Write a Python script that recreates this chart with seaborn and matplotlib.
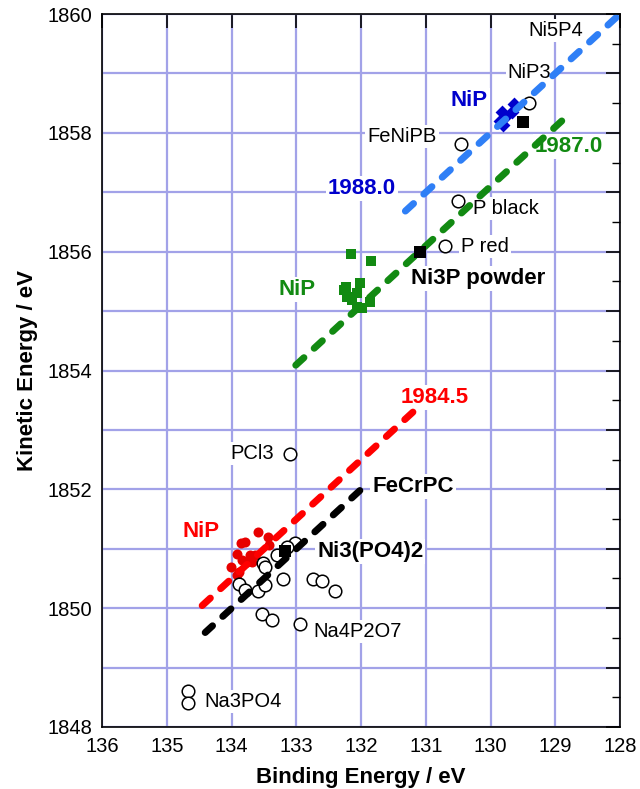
import matplotlib
matplotlib.use("Agg")
import matplotlib.pyplot as plt
import seaborn as sns
import pandas as pd
from matplotlib.ticker import MultipleLocator, FuncFormatter

# ---------------- data ----------------
# open circles: reference compounds
ref_be = [129.40, 130.46, 130.50, 130.70, 133.10,
          133.02, 133.15, 133.30, 133.51, 133.48, 133.89, 133.79, 133.60,
          133.48, 133.20, 132.74, 132.61, 132.40, 133.53, 133.38, 132.94,
          134.68, 134.68]
ref_ke = [1858.50, 1857.81, 1856.85, 1856.10, 1852.60,
          1851.09, 1851.03, 1850.90, 1850.76, 1850.70, 1850.40, 1850.31, 1850.29,
          1850.39, 1850.49, 1850.49, 1850.45, 1850.29, 1849.90, 1849.80, 1849.73,
          1848.61, 1848.41]

# NiP (red circles)
nip_red_be = [133.60, 133.44, 133.80, 133.85, 133.43, 133.92, 133.71, 133.64,
              133.84, 133.77, 133.69, 134.01, 133.89, 133.92]
nip_red_ke = [1851.29, 1851.20, 1851.12, 1851.09, 1851.06, 1850.92, 1850.90, 1850.90,
              1850.81, 1850.78, 1850.78, 1850.70, 1850.61, 1850.56]

# NiP (green squares)
nip_green_be = [132.15, 131.85, 132.23, 132.02, 132.06, 132.22, 131.86, 132.06,
                131.98, 132.14, 132.26]
nip_green_ke = [1855.96, 1855.84, 1855.41, 1855.47, 1855.30, 1855.24, 1855.15, 1855.07,
                1855.05, 1855.19, 1855.36]

# NiP (blue diamonds)
nip_blue_be = [129.83, 129.78, 129.67, 129.85, 129.81, 129.64]
nip_blue_ke = [1858.35, 1858.27, 1858.35, 1858.20, 1858.13, 1858.49]

# black squares
sq_be = [129.50, 131.09, 133.18]
sq_ke = [1858.19, 1856.00, 1850.96]

# Auger parameter lines (KE = AP - BE)
ap_values = [1988.0, 1987.1, 1984.5, 1984.0]
ap_be_from = [131.34, 133.08, 134.50, 134.41]
ap_be_to = [128.06, 128.90, 131.20, 132.02]

# annotations
label_text = ["Ni5P4", "NiP3", "NiP", "FeNiPB", "1988.0", "1987.0", "P black", "P red",
              "Ni3P powder", "NiP", "1984.5", "PCl3", "FeCrPC", "NiP", "Ni3(PO4)2",
              "Na4P2O7", "Na3PO4"]
label_be = [129.00, 129.40, 130.33, 131.37, 131.99, 128.79, 129.77, 130.08,
            130.19, 132.99, 130.86, 133.69, 131.20, 134.47, 131.86,
            132.06, 133.83]
label_ke = [1859.73, 1859.02, 1858.55, 1857.94, 1857.07, 1857.77, 1856.73, 1856.08,
            1855.55, 1855.36, 1853.54, 1852.60, 1852.04, 1851.29, 1850.96,
            1849.60, 1848.43]

x_ticks = [136, 135, 134, 133, 132, 131, 130, 129, 128]
y_ticks = [1848, 1850, 1852, 1854, 1856, 1858, 1860]

# ---------------- style ----------------
sns.set_theme(style="white")
plt.rcParams["font.family"] = ["Liberation Sans", "DejaVu Sans"]
plt.rcParams["lines.scale_dashes"] = False

BLUE_LINE = "#2f7ff6"
DARK_BLUE = "#0000cc"
GREEN = "#128a12"
RED = "#ff0000"
BLACK = "#000000"

label_color = [BLACK, BLACK, DARK_BLUE, BLACK, DARK_BLUE, GREEN, BLACK, BLACK,
               BLACK, GREEN, RED, BLACK, BLACK, RED, BLACK, BLACK, BLACK]
label_bold = [False, False, True, False, True, True, False, False,
              True, True, True, False, True, True, True, False, False]
line_colors = [BLUE_LINE, GREEN, RED, BLACK]

fig = plt.figure(figsize=(6.4, 7.89), dpi=100)
ax = fig.add_axes([102.3 / 640, 1 - 727 / 789, (620 - 102.3) / 640, (727 - 14) / 789])

# markers
sns.scatterplot(x=nip_red_be, y=nip_red_ke, ax=ax, marker="o", s=52,
                color="#e80000", edgecolor="#e80000", linewidth=0, zorder=3.0)
sns.scatterplot(x=ref_be, y=ref_ke, ax=ax, marker="o", s=82,
                facecolor="white", edgecolor="black", linewidth=1.1, zorder=3.1)
sns.scatterplot(x=nip_green_be, y=nip_green_ke, ax=ax, marker="s", s=55,
                color=GREEN, edgecolor=GREEN, linewidth=0, zorder=3.2)
sns.scatterplot(x=nip_blue_be, y=nip_blue_ke, ax=ax, marker="D", s=50,
                color=DARK_BLUE, edgecolor=DARK_BLUE, linewidth=0, zorder=3.2)

# Auger parameter lines
for ap, b0, b1, c in zip(ap_values, ap_be_from, ap_be_to, line_colors):
    df = pd.DataFrame({"BE": [b0, b1], "KE": [ap - b0, ap - b1]})
    sns.lineplot(data=df, x="BE", y="KE", ax=ax, color=c, lw=5,
                 linestyle=(0, (8, 10)), dash_capstyle="round",
                 solid_capstyle="round", zorder=4)

sns.scatterplot(x=sq_be, y=sq_ke, ax=ax, marker="s", s=80,
                color="black", edgecolor="black", linewidth=0, zorder=5)

for t, bx, ky, c, b in zip(label_text, label_be, label_ke, label_color, label_bold):
    ax.text(bx, ky, t, color=c, fontsize=16 if b else 14.5,
            fontweight="bold" if b else "normal", ha="center", va="center",
            zorder=2.5,
            bbox=dict(facecolor="white", edgecolor="none", pad=1.5))

ax.set_xlim(136, 128)
ax.set_ylim(1848, 1860)
ax.set_xticks(x_ticks)
ax.set_xticklabels([str(v) for v in x_ticks])
ax.yaxis.set_major_locator(MultipleLocator(1))
ax.yaxis.set_major_formatter(FuncFormatter(lambda v, p: f"{v:.0f}" if round(v) in y_ticks else ""))
ax.yaxis.set_minor_locator(MultipleLocator(0.5))

ax.grid(True, which="major", color="#a2a2e8", lw=1.6)
ax.set_axisbelow(True)
for sp in ax.spines.values():
    sp.set_color("black")
    sp.set_linewidth(1.2)
    sp.set_zorder(6)

ax.tick_params(which="both", direction="in", top=True, right=True, color="black",
               labelsize=14.5, labelcolor="black")
ax.tick_params(which="major", length=10, width=1.2, pad=7)
ax.tick_params(which="minor", length=6, width=1.0)

ax.set_xlabel("Binding Energy / eV", fontsize=16, fontweight="bold", labelpad=8, color="black")
ax.set_ylabel("Kinetic Energy / eV", fontsize=16, fontweight="bold", labelpad=7, color="black")

fig.savefig("out.png", dpi=100)
